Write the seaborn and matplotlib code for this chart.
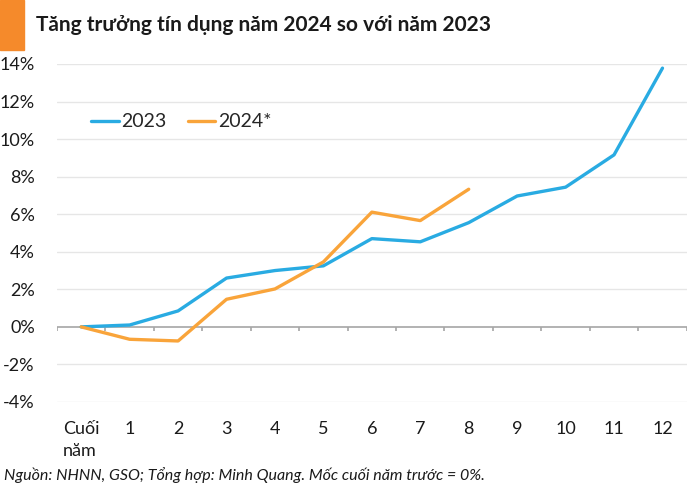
import matplotlib
matplotlib.use("Agg")
import matplotlib.pyplot as plt
import matplotlib.patches as mpatches
import seaborn as sns
import pandas as pd

# ==============================
# Data
# ==============================
months = ["Cuối\nnăm", "1", "2", "3", "4", "5", "6", "7", "8", "9", "10", "11", "12"]
growth_2023 = [0.0, 0.1, 0.85, 2.6, 3.0, 3.25, 4.7, 4.53, 5.55, 6.97, 7.44, 9.16, 13.78]
growth_2024 = [0.0, -0.66, -0.75, 1.47, 2.02, 3.46, 6.11, 5.66, 7.33]
yticks = [-4, -2, 0, 2, 4, 6, 8, 10, 12, 14]

df = pd.concat([
    pd.DataFrame({"x": range(len(growth_2023)), "value": growth_2023, "series": "2023"}),
    pd.DataFrame({"x": range(len(growth_2024)), "value": growth_2024, "series": "2024*"}),
])

BLUE = "#29abe2"
ORANGE = "#f9a43a"

sns.set_theme(style="white")
plt.rcParams["font.family"] = ["Lato", "DejaVu Sans"]

fig = plt.figure(figsize=(7, 4.93), dpi=100)
ax = fig.add_axes([0.0814, 0.1846, 0.8996, 0.6856])

# grid
for y in yticks:
    if y != 0:
        ax.axhline(y, color="#e6e6e6", lw=1, zorder=0)

sns.lineplot(data=df, x="x", y="value", hue="series",
             palette={"2023": BLUE, "2024*": ORANGE}, lw=2.4, ax=ax, zorder=3)

# zero line with category boundary ticks
ax.axhline(0, color="#a6a6a6", lw=1.2, zorder=2)
ax.vlines([i - 0.5 for i in range(len(months) + 1)], -0.22, 0, color="#a6a6a6", lw=1.2, zorder=2)

ax.set_xlim(-0.5, len(months) - 0.5)
ax.set_ylim(-4, 14)
ax.set_yticks(yticks)
ax.set_yticklabels([f"{v}%" for v in yticks], fontsize=13, color="#1a1a1a")
ax.set_xticks(range(len(months)))
ax.set_xticklabels(months, fontsize=13, color="#1a1a1a", va="top", ha="center",
                   multialignment="left", linespacing=1.45)
ax.tick_params(axis="both", length=0)
ax.tick_params(axis="x", pad=14)
ax.tick_params(axis="y", pad=16)
for lbl in ax.get_yticklabels():
    lbl.set_horizontalalignment("right")
for s in ax.spines.values():
    s.set_visible(False)
ax.set_xlabel("")
ax.set_ylabel("")

leg = ax.legend(loc="upper left", bbox_to_anchor=(0.03, 0.90), ncol=2, frameon=True,
                fontsize=14, handlelength=1.4, handletextpad=0.15, columnspacing=1.1,
                borderpad=0.3, facecolor="white", edgecolor="white", framealpha=1)
for line in leg.get_lines():
    line.set_linewidth(2.4)
leg.set_zorder(4)

# header
fig.patches.append(mpatches.Rectangle((0, 1 - 50 / 493), 24 / 700, 50 / 493,
                                      transform=fig.transFigure, color="#f58a2b"))
fig.text(36 / 700, 1 - 25 / 493, "Tăng trưởng tín dụng năm 2024 so với năm 2023",
         fontsize=15, fontweight="bold", color="#1a1a1a", va="center", ha="left")
fig.text(4 / 700, 1 - 475 / 493,
         "Nguồn: NHNN, GSO; Tổng hợp: Minh Quang. Mốc cuối năm trước = 0%.",
         fontsize=11.5, style="italic", color="#1a1a1a", va="center", ha="left")

fig.savefig("out.png", dpi=100)
